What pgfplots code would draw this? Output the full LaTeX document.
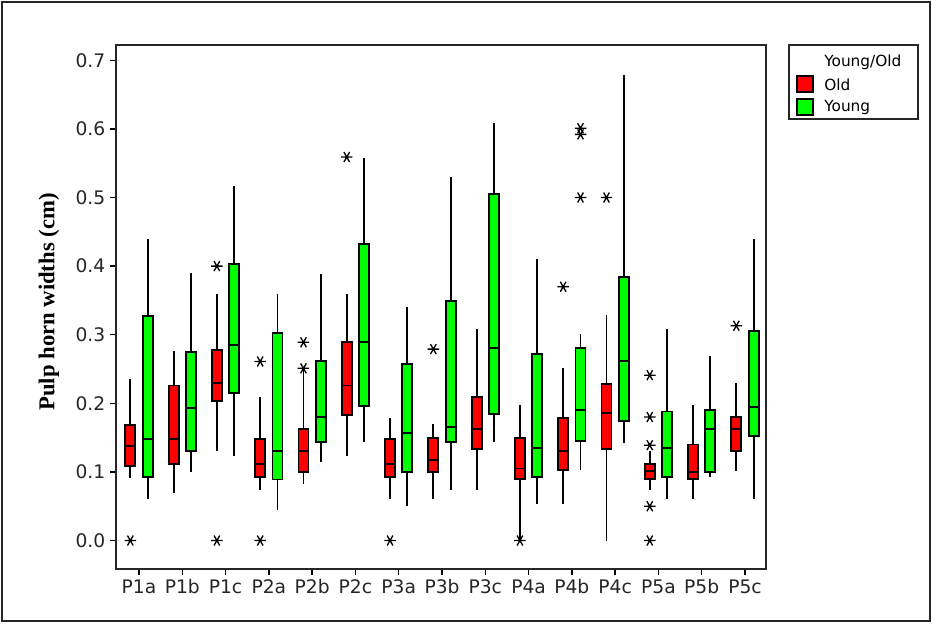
\documentclass[border=0pt]{standalone}
\usepackage{fontspec}
\setmainfont{DejaVu Sans}
\newfontfamily\serifb{Liberation Serif}
\usepackage{pgfplots}
\pgfplotsset{compat=1.18}
\definecolor{oldred}{RGB}{255,0,0}
\definecolor{younggreen}{RGB}{0,255,0}
% position, lower whisker, lower quartile, median, upper quartile, upper whisker, colour
\newcommand{\pulpbox}[7]{%
 \pgfmathsetmacro{\pbxa}{#1-0.115}\pgfmathsetmacro{\pbxb}{#1+0.115}%
 \addplot[black, line width=1.4pt] coordinates {(#1,#2) (#1,#3)};
 \addplot[black, line width=1.4pt] coordinates {(#1,#5) (#1,#6)};
 \addplot[draw=black, fill=#7, line width=1.4pt, line join=miter] coordinates {(\pbxa,#3) (\pbxb,#3) (\pbxb,#5) (\pbxa,#5)} -- cycle;
 \addplot[black, line width=1.4pt] coordinates {(\pbxa,#4) (\pbxb,#4)};
}
\begin{document}
\begin{tikzpicture}
\useasboundingbox (0,0) rectangle (705pt,468.75pt);
\draw[line width=1.5pt, black!85] (1.5pt,3pt) rectangle (697.5pt,467.25pt);
\begin{axis}[
  at={(87pt,42pt)}, anchor=south west, scale only axis,
  width=487.5pt, height=393pt,
  xmin=-0.531, xmax=14.485, ymin=-0.0415, ymax=0.7223,
  xtick={0,1,2,3,4,5,6,7,8,9,10,11,12,13,14},
  xticklabels={P1a,P1b,P1c,P2a,P2b,P2c,P3a,P3b,P3c,P4a,P4b,P4c,P5a,P5b,P5c},
  ytick={0,0.1,0.2,0.3,0.4,0.5,0.6,0.7},
  yticklabel style={/pgf/number format/.cd, fixed, fixed zerofill, precision=1},
  /pgf/number format/assume math mode=true,
  tick align=outside, xtick pos=left, ytick pos=left,
  major tick length=4.5pt,
  tick style={black, line width=1.1pt},
  axis line style={line width=1.3pt, black!85},
  ticklabel style={font=\fontsize{14}{16}\selectfont, text=black!85},
  clip=false,
]
% P1a
\pulpbox{-0.2}{0.091}{0.109}{0.138}{0.169}{0.236}{oldred}
\pulpbox{0.2}{0.061}{0.093}{0.148}{0.327}{0.440}{younggreen}
% P1b
\pulpbox{0.8}{0.070}{0.112}{0.148}{0.226}{0.276}{oldred}
\pulpbox{1.2}{0.100}{0.131}{0.193}{0.275}{0.390}{younggreen}
% P1c
\pulpbox{1.8}{0.131}{0.203}{0.229}{0.278}{0.359}{oldred}
\pulpbox{2.2}{0.123}{0.215}{0.285}{0.403}{0.517}{younggreen}
% P2a
\pulpbox{2.8}{0.074}{0.093}{0.112}{0.148}{0.209}{oldred}
\pulpbox{3.2}{0.044}{0.089}{0.131}{0.303}{0.359}{younggreen}
% P2b
\pulpbox{3.8}{0.083}{0.100}{0.131}{0.162}{0.251}{oldred}
\pulpbox{4.2}{0.114}{0.143}{0.180}{0.262}{0.389}{younggreen}
% P2c
\pulpbox{4.8}{0.123}{0.183}{0.226}{0.289}{0.359}{oldred}
\pulpbox{5.2}{0.143}{0.196}{0.289}{0.432}{0.557}{younggreen}
% P3a
\pulpbox{5.8}{0.061}{0.093}{0.112}{0.148}{0.179}{oldred}
\pulpbox{6.2}{0.051}{0.100}{0.157}{0.257}{0.340}{younggreen}
% P3b
\pulpbox{6.8}{0.061}{0.100}{0.118}{0.150}{0.170}{oldred}
\pulpbox{7.2}{0.074}{0.143}{0.166}{0.349}{0.530}{younggreen}
% P3c
\pulpbox{7.8}{0.074}{0.133}{0.162}{0.209}{0.309}{oldred}
\pulpbox{8.2}{0.143}{0.185}{0.281}{0.505}{0.608}{younggreen}
% P4a
\pulpbox{8.8}{0.000}{0.090}{0.105}{0.150}{0.198}{oldred}
\pulpbox{9.2}{0.053}{0.093}{0.135}{0.272}{0.410}{younggreen}
% P4b
\pulpbox{9.8}{0.053}{0.103}{0.131}{0.179}{0.251}{oldred}
\pulpbox{10.2}{0.103}{0.145}{0.190}{0.281}{0.301}{younggreen}
% P4c
\pulpbox{10.8}{0.000}{0.133}{0.186}{0.228}{0.329}{oldred}
\pulpbox{11.2}{0.142}{0.174}{0.262}{0.384}{0.679}{younggreen}
% P5a
\pulpbox{11.8}{0.074}{0.090}{0.101}{0.112}{0.130}{oldred}
\pulpbox{12.2}{0.061}{0.093}{0.135}{0.188}{0.309}{younggreen}
% P5b
\pulpbox{12.8}{0.061}{0.090}{0.100}{0.140}{0.198}{oldred}
\pulpbox{13.2}{0.093}{0.100}{0.162}{0.190}{0.269}{younggreen}
% P5c
\pulpbox{13.8}{0.102}{0.131}{0.162}{0.180}{0.229}{oldred}
\pulpbox{14.2}{0.061}{0.152}{0.195}{0.306}{0.440}{younggreen}
% outliers
\addplot[only marks, mark=asterisk, mark size=4.3pt,
  mark options={rotate=90, line width=1pt, black}] coordinates {
  (-0.2,0.0) (1.8,0.40) (1.8,0.0) (2.8,0.261) (2.8,0.0)
  (3.8,0.289) (3.8,0.251) (4.8,0.559) (5.8,0.0) (6.8,0.279)
  (8.8,0.0) (9.8,0.37) (10.2,0.50) (10.2,0.592) (10.2,0.601)
  (10.8,0.50) (11.8,0.241) (11.8,0.180) (11.8,0.139) (11.8,0.050) (11.8,0.0)
  (13.8,0.313)};
\end{axis}
\node[rotate=90, font=\serifb\bfseries\fontsize{17}{20}\selectfont] at (36.75pt,242.25pt) {Pulp horn widths (cm)};
% legend
\draw[line width=1.2pt, black!85, fill=white] (591.75pt,379.5pt) rectangle (688.5pt,435pt);
\node[anchor=west, inner sep=0pt, font=\fontsize{11.5}{13}\selectfont] at (618pt,422.25pt) {Young/Old};
\draw[line width=0.9pt, fill=oldred] (597.75pt,399.75pt) rectangle (609.75pt,411.75pt);
\node[anchor=west, inner sep=0pt, font=\fontsize{11.5}{13}\selectfont] at (618pt,405.5pt) {Old};
\draw[line width=0.9pt, fill=younggreen] (597.75pt,382.5pt) rectangle (609.75pt,394.5pt);
\node[anchor=west, inner sep=0pt, font=\fontsize{11.5}{13}\selectfont] at (618pt,388pt) {Young};
\end{tikzpicture}
\end{document}
